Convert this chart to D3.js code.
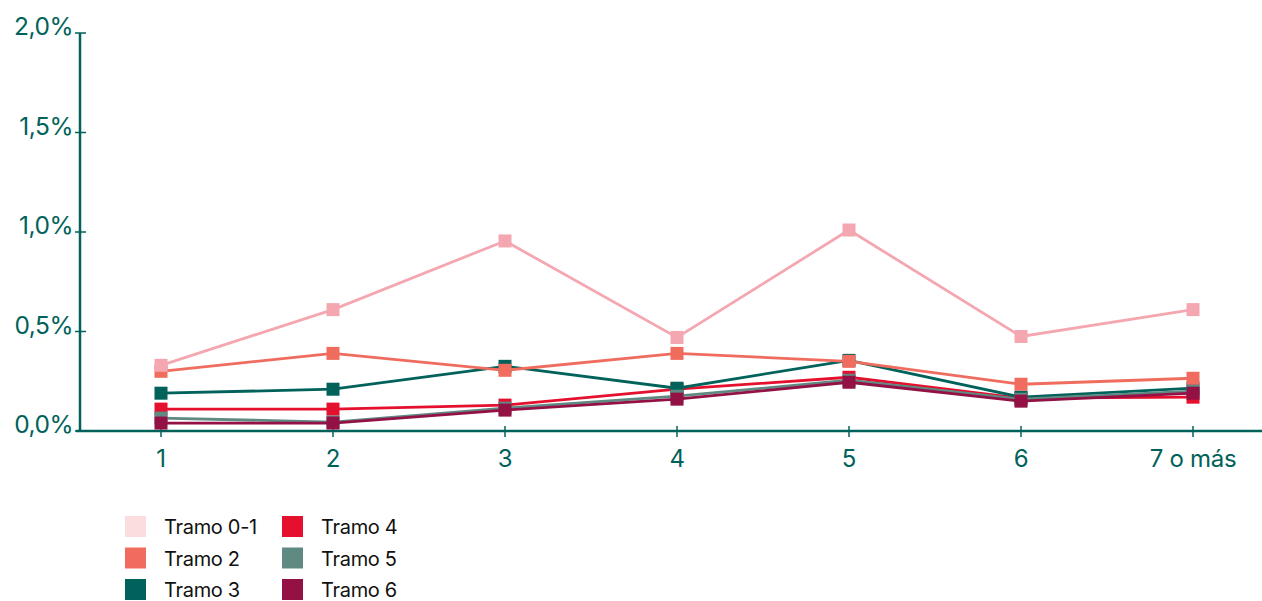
<!DOCTYPE html>
<html>
<head>
<meta charset="utf-8">
<script src="https://cdn.jsdelivr.net/npm/d3@7"></script>
<style>
  html, body { margin: 0; padding: 0; background: #fff; }
  svg { display: block; font-family: Inter, "Noto Sans", sans-serif; }
</style>
</head>
<body>
<svg id="chart" width="1262" height="601"></svg>
<script>
// Categories on the x axis
const categories = ["1", "2", "3", "4", "5", "6", "7 o más"];

// Series values (share, %)
const tramo01 = [0.33, 0.61, 0.955, 0.47, 1.01, 0.475, 0.61];
const tramo2  = [0.30, 0.39, 0.305, 0.39, 0.35, 0.235, 0.265];
const tramo3  = [0.19, 0.21, 0.325, 0.215, 0.355, 0.17, 0.215];
const tramo4  = [0.11, 0.11, 0.13, 0.21, 0.27, 0.165, 0.17];
const tramo5  = [0.065, 0.045, 0.115, 0.175, 0.255, 0.16, 0.20];
const tramo6  = [0.04, 0.04, 0.105, 0.16, 0.245, 0.15, 0.19];

// Y axis ticks
const yTicks = [0, 0.5, 1.0, 1.5, 2.0];
const yTickLabels = ["0,0%", "0,5%", "1,0%", "1,5%", "2,0%"];

const series = [
  { name: "Tramo 0-1", values: tramo01, line: "#f4a7b0", swatch: "#fbdde0" },
  { name: "Tramo 2",   values: tramo2,  line: "#ef6c5f", swatch: "#ef6c5f" },
  { name: "Tramo 3",   values: tramo3,  line: "#00625a", swatch: "#00625a" },
  { name: "Tramo 4",   values: tramo4,  line: "#e4102e", swatch: "#e4102e" },
  { name: "Tramo 5",   values: tramo5,  line: "#5f8a84", swatch: "#5f8a84" },
  { name: "Tramo 6",   values: tramo6,  line: "#931145", swatch: "#931145" }
];

// Drawing order: lower lines first, upper lines on top
const drawOrder = ["Tramo 4", "Tramo 3", "Tramo 5", "Tramo 6", "Tramo 2", "Tramo 0-1"];

const axisColor = "#00625a";
const svg = d3.select("#chart");

const x = d3.scalePoint().domain(categories).range([161, 1193]);
const y = d3.scaleLinear().domain([0, 2]).range([431, 33]);

// Y axis
const yAxis = svg.append("g");
yAxis.append("line")
  .attr("x1", 80).attr("x2", 80)
  .attr("y1", y(2)).attr("y2", y(0))
  .attr("stroke", axisColor).attr("stroke-width", 2.5);
yAxis.selectAll("line.tick").data(yTicks).join("line")
  .attr("class", "tick")
  .attr("x1", 75).attr("x2", 86)
  .attr("y1", d => y(d)).attr("y2", d => y(d))
  .attr("stroke", axisColor).attr("stroke-width", 1.5);
yAxis.selectAll("text").data(yTicks).join("text")
  .attr("x", 73)
  .attr("y", d => y(d) + 2)
  .attr("text-anchor", "end")
  .attr("fill", axisColor)
  .attr("font-size", 24.5)
  .attr("letter-spacing", -0.5)
  .text((d, i) => yTickLabels[i]);

// X axis
const xAxis = svg.append("g");
xAxis.append("line")
  .attr("x1", 76).attr("x2", 1262)
  .attr("y1", y(0)).attr("y2", y(0))
  .attr("stroke", axisColor).attr("stroke-width", 2.5);
xAxis.selectAll("line.tick").data(categories).join("line")
  .attr("class", "tick")
  .attr("x1", d => x(d)).attr("x2", d => x(d))
  .attr("y1", y(0) - 5).attr("y2", y(0) + 6)
  .attr("stroke", axisColor).attr("stroke-width", 1.5);
xAxis.selectAll("text").data(categories).join("text")
  .attr("x", d => x(d))
  .attr("y", 467)
  .attr("text-anchor", "middle")
  .attr("fill", axisColor)
  .attr("font-size", 24)
  .attr("letter-spacing", -0.3)
  .text(d => d);

// Lines and square markers
const lineGen = d3.line()
  .x((d, i) => x(categories[i]))
  .y(d => y(d));

const ordered = drawOrder.map(n => series.find(s => s.name === n));
const marker = 13;

ordered.forEach(s => {
  const g = svg.append("g");
  g.append("path")
    .datum(s.values)
    .attr("d", lineGen)
    .attr("fill", "none")
    .attr("stroke", s.line)
    .attr("stroke-width", 2.8);
  g.selectAll("rect").data(s.values).join("rect")
    .attr("x", (d, i) => x(categories[i]) - marker / 2)
    .attr("y", d => y(d) - marker / 2)
    .attr("width", marker)
    .attr("height", marker)
    .attr("fill", s.line);
});

// Legend: two columns of three
const legend = svg.append("g");
const items = legend.selectAll("g").data(series).join("g")
  .attr("transform", (d, i) => {
    const col = Math.floor(i / 3), row = i % 3;
    return `translate(${125 + col * 157},${516 + row * 31.5})`;
  });
items.append("rect")
  .attr("width", 21).attr("height", 21)
  .attr("fill", d => d.swatch);
items.append("text")
  .attr("x", 39)
  .attr("y", 18)
  .attr("font-size", 20)
  .attr("fill", "#111")
  .attr("letter-spacing", -0.3)
  .text(d => d.name);
</script>
</body>
</html>
